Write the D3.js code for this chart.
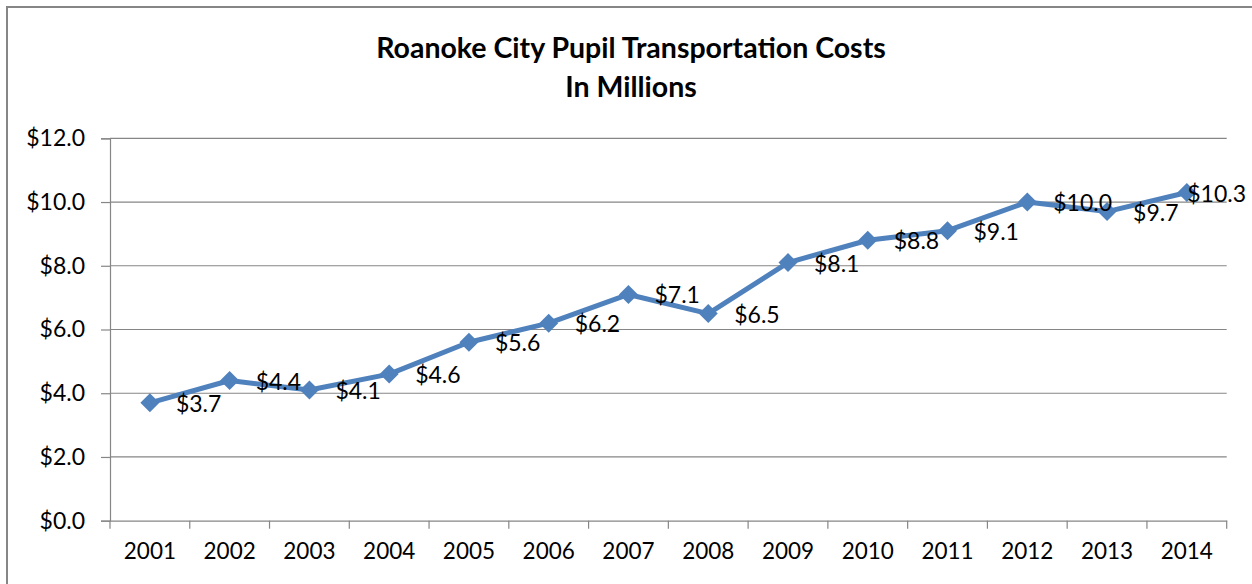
<!DOCTYPE html>
<html><head><meta charset="utf-8">
<script src="https://cdn.jsdelivr.net/npm/d3@7/dist/d3.min.js"></script>
<style>body{margin:0;background:#fff}svg{display:block}</style>
</head><body>
<svg id="c" width="1252" height="584"></svg>
<script>
const years = ["2001","2002","2003","2004","2005","2006","2007","2008","2009","2010","2011","2012","2013","2014"];
const costs = [3.7,4.4,4.1,4.6,5.6,6.2,7.1,6.5,8.1,8.8,9.1,10.0,9.7,10.3];
const yTicks = [0,2,4,6,8,10,12];
const titleLines = ["Roanoke City Pupil Transportation Costs","In Millions"];

const svg = d3.select("#c");
const font = "Lato, 'Open Sans', sans-serif";
const W = 1252, H = 584;
const m = {left:110, right:1226.7, top:138.3, bottom:520.7};

svg.append("rect").attr("x",7).attr("y",7).attr("width",1300).attr("height",700)
  .attr("fill","#fff").attr("stroke","#868686").attr("stroke-width",2);

const x = d3.scaleBand().domain(years).range([m.left,m.right]).padding(0);
const y = d3.scaleLinear().domain([0,12]).range([m.bottom,m.top]);

// gridlines
svg.append("g").selectAll("line").data(yTicks.filter(d=>d>0)).join("line")
  .attr("x1",m.left).attr("x2",m.right).attr("y1",d=>y(d)).attr("y2",d=>y(d))
  .attr("stroke","#868686").attr("stroke-width",1.2);

// y axis
const ya = svg.append("g").attr("transform",`translate(${m.left},0)`)
  .call(d3.axisLeft(y).tickValues(yTicks).tickSize(9).tickPadding(16).tickFormat(d=>"$"+d3.format(".1f")(d)));
ya.select(".domain").attr("stroke","#868686").attr("stroke-width",1.2);
ya.selectAll(".tick line").attr("stroke","#868686").attr("stroke-width",1.2);
ya.selectAll("text").attr("font-family",font).attr("font-size",23).attr("fill","#000");

// x axis
const xa = svg.append("g").attr("transform",`translate(0,${m.bottom})`)
  .call(d3.axisBottom(x).tickSize(0).tickPadding(22));
xa.select(".domain").attr("stroke","#868686").attr("stroke-width",1.2);
xa.selectAll("text").attr("font-family",font).attr("font-size",22.5).attr("fill","#000");
// boundary ticks
const bounds = years.map(d=>x(d)).concat([m.right]);
xa.append("g").selectAll("line").data(bounds).join("line")
  .attr("x1",d=>d).attr("x2",d=>d).attr("y1",0).attr("y2",8)
  .attr("stroke","#868686").attr("stroke-width",1.2);

const cx = d => x(d) + x.bandwidth()/2;
const pts = years.map((d,i)=>({yr:d,v:costs[i]}));

svg.append("path").datum(pts)
  .attr("d", d3.line().x(d=>cx(d.yr)).y(d=>y(d.v)))
  .attr("fill","none").attr("stroke","#4F81BD").attr("stroke-width",5).attr("stroke-linejoin","round");

svg.append("g").selectAll("path").data(pts).join("path")
  .attr("transform",d=>`translate(${cx(d.yr)},${y(d.v)})`)
  .attr("d","M0,-9.5L9.5,0L0,9.5L-9.5,0Z").attr("fill","#4F81BD");

const lbl = svg.append("g").selectAll("text").data(pts).join("text")
  .attr("x",d=>cx(d.yr)+26).attr("y",d=>y(d.v)+1).attr("dy","0.35em")
  .attr("font-family",font).attr("font-size",23).attr("fill","#000")
  .text(d=>"$"+d3.format(".1f")(d.v));
lbl.each(function(){
  const b=this.getBBox();
  if(b.x+b.width>W-6){ d3.select(this).attr("x", W-6-b.width); }
});

svg.append("g").selectAll("text").data(titleLines).join("text")
  .attr("x",631).attr("y",(d,i)=>48+i*39).attr("dy","0.35em").attr("text-anchor","middle")
  .attr("font-family",font).attr("font-weight","bold").attr("font-size",28.5).attr("fill","#000")
  .text(d=>d);
</script>
</body></html>
